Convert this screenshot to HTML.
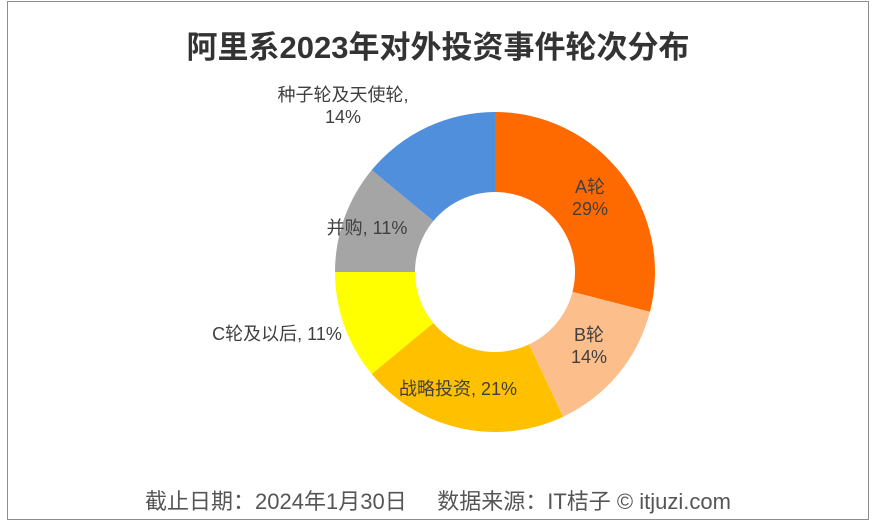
<!DOCTYPE html>
<html><head><meta charset="utf-8"><style>
body{margin:0;width:876px;height:525px;background:#fff;overflow:hidden;font-family:"Liberation Sans","Noto Sans CJK SC",sans-serif}
#frame{position:absolute;left:7px;top:1px;width:862px;height:519px;border:1px solid #8c8c8c;box-sizing:border-box}
#title{position:absolute;left:0;width:876px;top:22px;text-align:center;font-size:31px;font-weight:bold;color:#333}
#foot{position:absolute;left:0;width:876px;top:484px;text-align:center;font-size:22px;color:#555}
svg{position:absolute;left:0;top:0}
text{font-family:"Liberation Sans","Noto Sans CJK SC",sans-serif;font-size:18px;fill:#404040}
</style></head><body>
<div id="frame"></div>
<div id="title">阿里系2023年对外投资事件轮次分布</div>
<svg id="chart" width="876" height="525"></svg>
<div id="foot">截止日期：2024年1月30日&nbsp;&nbsp;&nbsp;&nbsp;&nbsp;数据来源：IT桔子 © itjuzi.com</div>
<script>
const categories=["A轮","B轮","战略投资","C轮及以后","并购","种子轮及天使轮"];
const values=[29,14,21,11,11,14];
const labels=["A轮\n29%","B轮\n14%","战略投资, 21%","C轮及以后, 11%","并购, 11%","种子轮及天使轮,\n14%"];
const colors=["#ff6a00","#fcbf8c","#ffc000","#ffff00","#a5a5a5","#4f8fdb"];
const labelPos=[[590,193],[589,341],[458,395],[277,340],[367,234],[343,101]];
const cx=495,cy=272,R=160,r=80;
const svg=document.getElementById('chart');
const NS='http://www.w3.org/2000/svg';
const total=values.reduce((a,b)=>a+b,0);
let acc=0;
function pt(a,rad){return [cx+rad*Math.sin(a),cy-rad*Math.cos(a)];}
values.forEach((v,i)=>{
 const a0=acc/total*2*Math.PI;acc+=v;const a1=acc/total*2*Math.PI;
 const lg=(a1-a0)>Math.PI?1:0;
 const p0=pt(a0,R),p1=pt(a1,R),q1=pt(a1,r),q0=pt(a0,r);
 const p=document.createElementNS(NS,'path');
 p.setAttribute('d',`M${p0}A${R},${R} 0 ${lg} 1 ${p1}L${q1}A${r},${r} 0 ${lg} 0 ${q0}Z`);
 p.setAttribute('fill',colors[i]);
 
 
 svg.appendChild(p);
 const t=document.createElementNS(NS,'text');
 t.setAttribute('text-anchor','middle');
 
 
 labels[i].split('\n').forEach((s,j)=>{
  const ts=document.createElementNS(NS,'tspan');
  ts.setAttribute('x',labelPos[i][0]);ts.setAttribute('y',labelPos[i][1]+j*22);
  ts.textContent=s;t.appendChild(ts);
 });
 svg.appendChild(t);
});
</script>
</body></html>
